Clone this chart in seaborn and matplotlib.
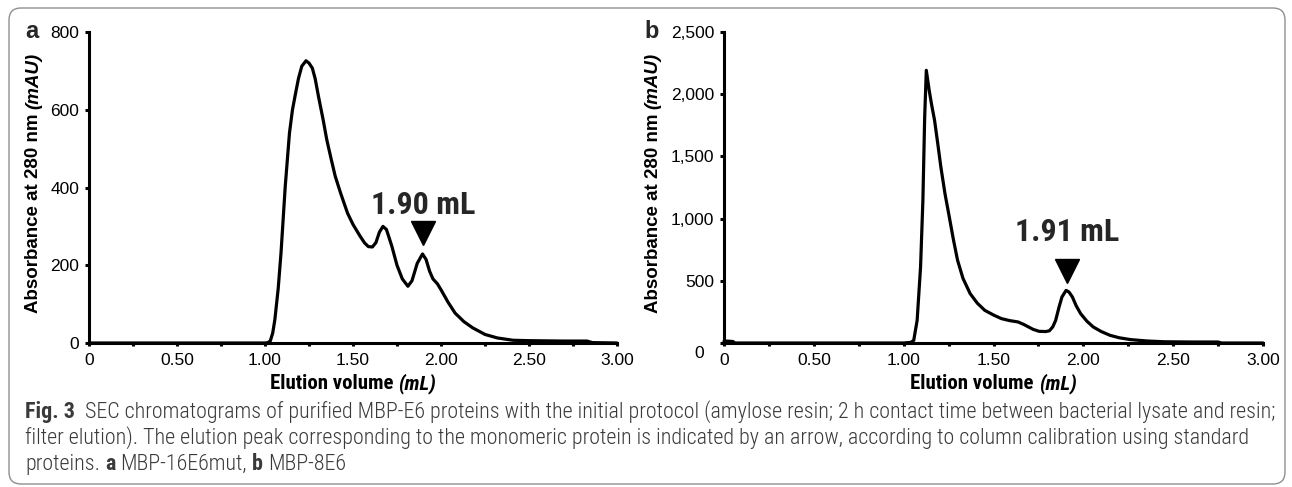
import numpy as np
import pandas as pd
import seaborn as sns
import matplotlib.pyplot as plt
from matplotlib import font_manager
from matplotlib.patches import FancyBboxPatch
from matplotlib.transforms import IdentityTransform, ScaledTranslation

# panel a : MBP-16E6mut chromatogram (elution volume mL, absorbance mAU)
vol_a = [0, 0.5, 1.0, 1.016, 1.03, 1.044, 1.056, 1.075, 1.091, 1.115, 1.139, 1.156, 1.174,
         1.19, 1.209, 1.233, 1.25, 1.269, 1.285, 1.304, 1.33, 1.351, 1.375, 1.399, 1.43,
         1.469, 1.5, 1.54, 1.565, 1.587, 1.61, 1.63, 1.65, 1.67, 1.69, 1.72, 1.75, 1.78,
         1.812, 1.835, 1.865, 1.895, 1.915, 1.935, 1.954, 1.98, 2.0, 2.04, 2.08, 2.13, 2.18,
         2.25, 2.32, 2.41, 2.5, 2.7, 2.83, 2.86, 3.0]
abs_a = [0, 0, 0, 1, 5, 26, 60, 140, 232, 403, 540, 600, 643,
         680, 712, 726, 720, 707, 680, 634, 575, 523, 475, 429, 385,
         334, 305, 275, 258, 248, 247, 258, 285, 300, 292, 250, 200, 165,
         146, 160, 205, 229, 215, 185, 165, 152, 137, 105, 77, 55, 39,
         22, 13, 7, 6, 5, 5, 1, 0]

# panel b : MBP-8E6 chromatogram
vol_b = [0, 0.02, 0.05, 0.06, 1.0, 1.04, 1.056, 1.075, 1.094, 1.107, 1.117, 1.126, 1.142,
         1.155, 1.172, 1.19, 1.207, 1.23, 1.254, 1.277, 1.3, 1.33, 1.37, 1.41, 1.451, 1.5,
         1.544, 1.59, 1.637, 1.67, 1.695, 1.72, 1.753, 1.79, 1.811, 1.83, 1.846, 1.865,
         1.881, 1.904, 1.92, 1.939, 1.96, 1.985, 2.02, 2.055, 2.1, 2.148, 2.2, 2.264, 2.357,
         2.45, 2.6, 2.75, 2.77, 3.0]
abs_b = [15, 15, 12, 0, 0, 5, 21, 182, 611, 1147, 1817, 2192, 2031,
         1920, 1790, 1600, 1415, 1200, 1013, 830, 665, 520, 397, 320, 263, 225,
         196, 180, 169, 148, 129, 110, 94, 92, 98, 130, 182, 290,
         370, 423, 410, 370, 300, 236, 175, 129, 92, 62, 42, 27, 16,
         10, 8, 8, 0, 0]

xticks = [0, 0.5, 1.0, 1.5, 2.0, 2.5, 3.0]
xtick_labels = ['0', '0.50', '1.00', '1.50', '2.00', '2.50', '3.00']
yticks_a = [0, 200, 400, 600, 800]
yticks_b = [0, 500, 1000, 1500, 2000, 2500]
peak_a = 1.90
peak_b = 1.91

caption1 = "SEC chromatograms of purified MBP-E6 proteins with the initial protocol (amylose resin; 2 h contact time between bacterial lysate and resin;"
caption2 = "filter elution). The elution peak corresponding to the monomeric protein is indicated by an arrow, according to column calibration using standard"


def font_ok(name):
    try:
        font_manager.findfont(font_manager.FontProperties(family=name), fallback_to_default=False)
        return True
    except Exception:
        return False


narrow = 'Liberation Sans'
for cand in ['Liberation Sans Narrow', 'Roboto Condensed', 'DejaVu Sans Condensed',
             'Open Sans Condensed', 'Noto Sans Condensed']:
    if font_ok(cand):
        narrow = cand
        break
has_narrow = narrow != 'Liberation Sans'

sns.set_theme(style='ticks', rc={'axes.edgecolor': 'black', 'xtick.color': 'black',
                                 'ytick.color': 'black', 'axes.linewidth': 2.2})
plt.rcParams['font.family'] = ['Liberation Sans', 'DejaVu Sans']

W, H = 1292, 487
fig = plt.figure(figsize=(W / 100, H / 100), dpi=100)
renderer = fig.canvas.get_renderer()
PX = IdentityTransform()


def text_w(s, **kw):
    t = fig.text(0, 0, s, transform=PX, **kw)
    w = t.get_window_extent(renderer).width
    t.remove()
    return w


def put_runs(x, y, runs, size, family, color='black', rotation=0, center=False):
    # runs: (text, weight, style, spaces after); x, y in pixels from top-left
    sp = text_w('a a', fontsize=size, family=family) - text_w('aa', fontsize=size, family=family)
    y = H - y
    items = []
    pos = x if rotation == 0 else y
    for txt, weight, style, gap in runs:
        if rotation == 0:
            t = fig.text(pos, y, txt, transform=PX, fontsize=size, family=family,
                         fontweight=weight, fontstyle=style, color=color, ha='left', va='baseline')
            pos = t.get_window_extent(renderer).x1 + gap * sp
        else:
            t = fig.text(x, pos, txt, transform=PX, fontsize=size, family=family,
                         fontweight=weight, fontstyle=style, color=color, rotation=90,
                         ha='center', va='bottom')
            pos = t.get_window_extent(renderer).y1 + gap * sp
        items.append(t)
    if center:
        total = pos - (x if rotation == 0 else y)
        for t in items:
            px_, py_ = t.get_position()
            if rotation == 0:
                t.set_x(px_ - total / 2)
            else:
                t.set_y(py_ - total / 2)
    return items


# caption frame
frame = FancyBboxPatch((9, 3), 1276, 476, boxstyle='round,pad=0,rounding_size=12',
                       transform=PX, fc='white', ec='#8f8f8f', lw=1.0, zorder=-5)
fig.patches.append(frame)

panels = [
    dict(vol=vol_a, val=abs_a, left=89, width=528, ymax=800, yticks=yticks_a,
         peak=peak_a, text_y=356, mark_y=283, letter='a', letter_x=32, ylab_x=34),
    dict(vol=vol_b, val=abs_b, left=724, width=539, ymax=2500, yticks=yticks_b,
         peak=peak_b, text_y=892, mark_y=579, letter='b', letter_x=652, ylab_x=653),
]

ax_top, ax_bot = 32, 343
for p in panels:
    ax = fig.add_axes([p['left'] / W, 1 - ax_bot / H, p['width'] / W, (ax_bot - ax_top) / H])
    sns.lineplot(x=p['vol'], y=p['val'], ax=ax, color='black', linewidth=2.3, clip_on=False)
    ax.set_xlim(0, 3.0)
    ax.set_ylim(0, p['ymax'])
    ax.set_xticks(xticks)
    ax.set_xticklabels(xtick_labels)
    ax.set_xticks([0.25, 0.75, 1.25, 1.75, 2.25, 2.75], minor=True)
    ax.set_yticks(p['yticks'])
    ax.set_yticklabels([f'{v:,}' for v in p['yticks']])
    ax.tick_params(axis='x', which='both', direction='out', length=2.5, width=2.2, pad=5,
                   labelsize=12.5)
    ax.tick_params(axis='y', direction='out', length=3, width=2.2, pad=4, labelsize=12.5)
    sns.despine(ax=ax)

    label = f"{p['peak']:.2f} mL"
    ax.text(p['peak'], p['text_y'], label, ha='center', va='center',
            fontsize=23 if has_narrow else 20, family=narrow, fontweight='bold')
    ax.plot([p['peak']], [p['mark_y']], marker='v', ms=17, color='black', clip_on=False)

    if p['letter'] == 'b':
        lab0 = ax.get_yticklabels()[0]
        lab0.set_transform(lab0.get_transform() + ScaledTranslation(-0.1, -0.09, fig.dpi_scale_trans))

    fig.text(p['letter_x'], H - 32, p['letter'], transform=PX, fontsize=17,
             fontweight='bold', ha='center', va='center')

    xc = p['left'] + p['width'] / 2
    put_runs(xc, 389, [('Elution volume', 'bold', 'normal', 1), ('(mL)', 'bold', 'italic', 0)],
             15 if has_narrow else 12.5, narrow, center=True)
    put_runs(p['ylab_x'], 183, [('Absorbance at 280 nm', 'bold', 'normal', 1),
                                ('(mAU)', 'bold', 'italic', 0)],
             13.5, 'Liberation Sans', rotation=90, center=True)

# caption text, sized so the first line spans the frame
cap_font = narrow
cap_size = 12 * 1250 / text_w('Fig. 3  ' + caption1, fontsize=12, family=cap_font, fontweight='light')
cap_col = '#3a3a3a'
put_runs(25, 418, [('Fig. 3', 'bold', 'normal', 2), (caption1, 'light', 'normal', 0)],
         cap_size, cap_font, color=cap_col)
put_runs(25, 444, [(caption2, 'light', 'normal', 0)], cap_size, cap_font, color=cap_col)
put_runs(25, 470, [('proteins.', 'light', 'normal', 1), ('a', 'bold', 'normal', 1),
                   ('MBP-16E6mut,', 'light', 'normal', 1), ('b', 'bold', 'normal', 1),
                   ('MBP-8E6', 'light', 'normal', 0)], cap_size, cap_font, color=cap_col)

fig.savefig('out.png', dpi=100)
